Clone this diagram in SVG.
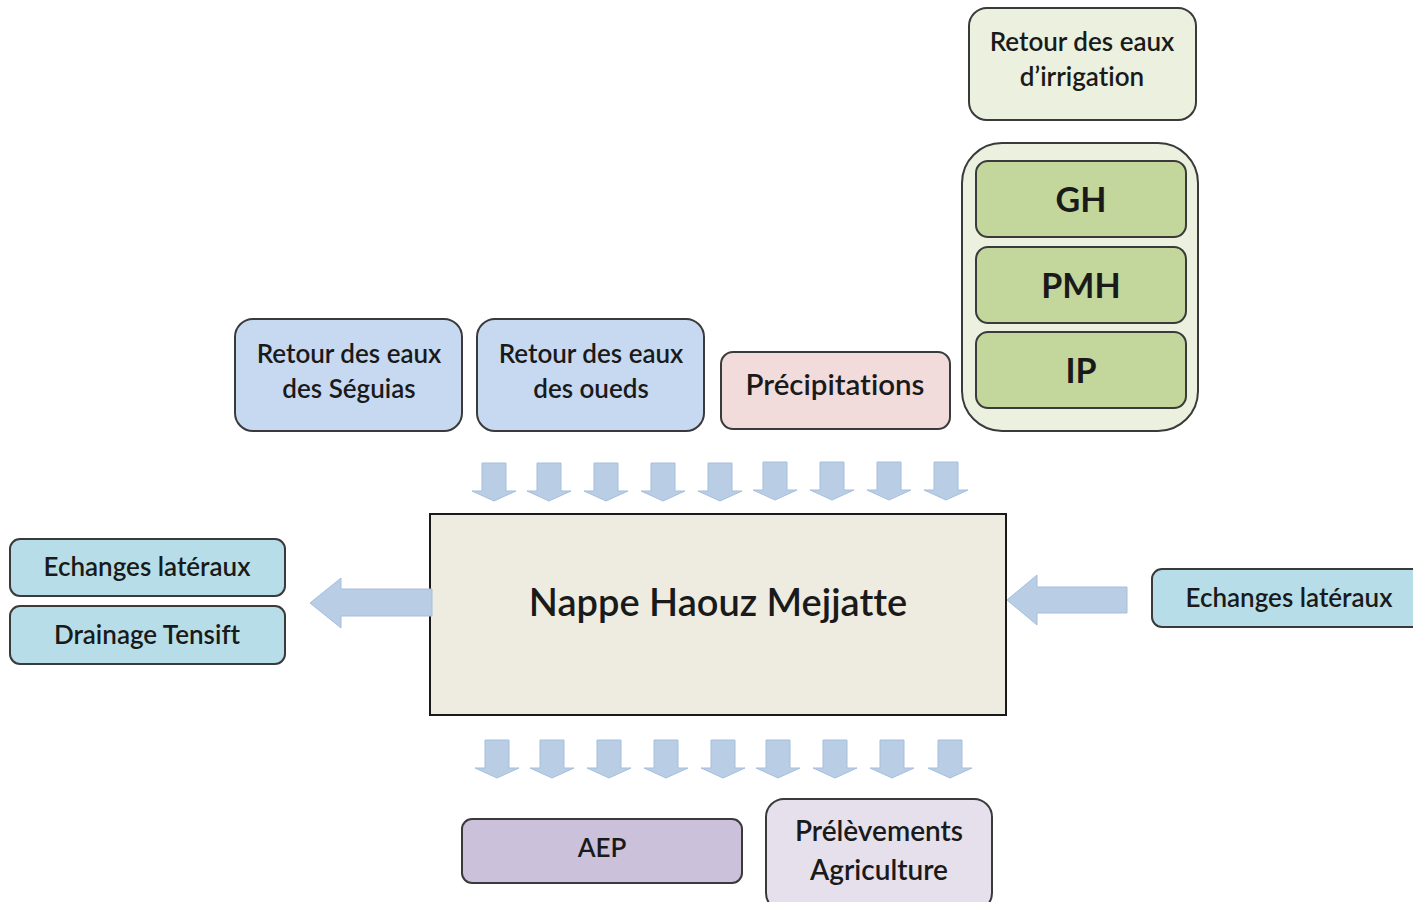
<svg xmlns="http://www.w3.org/2000/svg" width="1413" height="902" viewBox="0 0 1413 902">
<defs>
<style>
.box{stroke:#3a3a3a;stroke-width:2}
.t{font-family:Lato,"Open Sans","Liberation Sans",sans-serif;fill:#1a1a1a;text-anchor:middle;dominant-baseline:central;font-weight:600;font-variant-ligatures:none}
.m{font-size:26px}
.big{font-size:34px;font-weight:bold}
.arr{fill:#b9cde5;stroke:#a5bfdd;stroke-width:1}
</style>
<path id="down" class="arr" d="M-12,0 H12 V28 H22 L0,38 L-22,28 H-12 Z"/>
</defs>
<rect width="1413" height="902" fill="#ffffff"/>

<g id="irrigation">
<rect class="box" x="969" y="8" width="227" height="112" rx="18" fill="#ebf1de"/>
<text class="t m" x="1082" y="41">Retour des eaux</text>
<text class="t m" x="1082" y="76">d’irrigation</text>
</g>
<g id="groupe-irrigation">
<rect class="box" x="962" y="143" width="236" height="288" rx="40" fill="#ebf1de"/>
</g>
<g id="GH">
<rect class="box" x="976" y="161" width="210" height="76" rx="12" fill="#c3d69b"/>
<text class="t big" x="1081" y="198">GH</text>
</g>
<g id="PMH">
<rect class="box" x="976" y="247" width="210" height="76" rx="12" fill="#c3d69b"/>
<text class="t big" x="1081" y="284">PMH</text>
</g>
<g id="IP">
<rect class="box" x="976" y="332" width="210" height="76" rx="12" fill="#c3d69b"/>
<text class="t big" x="1081" y="369">IP</text>
</g>

<g id="seguias">
<rect class="box" x="235" y="319" width="227" height="112" rx="18" fill="#c6d9f1"/>
<text class="t m" x="349" y="353">Retour des eaux</text>
<text class="t m" x="349" y="388">des Séguias</text>
</g>
<g id="oueds">
<rect class="box" x="477" y="319" width="227" height="112" rx="18" fill="#c6d9f1"/>
<text class="t m" x="591" y="353">Retour des eaux</text>
<text class="t m" x="591" y="388">des oueds</text>
</g>
<g id="precipitations">
<rect class="box" x="721" y="352" width="229" height="77" rx="12" fill="#f2dcdb"/>
<text class="t" style="font-size:29.5px" x="835" y="383">Précipitations</text>
</g>

<g id="nappe">
<rect x="430" y="514" width="576" height="201" fill="#eeece1" stroke="#1a1a1a" stroke-width="2"/>
<text class="t" style="font-size:38px" x="718" y="601">Nappe Haouz Mejjatte</text>
</g>

<g id="echanges-gauche">
<rect class="box" x="10" y="539" width="275" height="57" rx="10" fill="#b7dee8"/>
<text class="t m" x="147" y="566">Echanges latéraux</text>
</g>
<g id="drainage">
<rect class="box" x="10" y="606" width="275" height="58" rx="10" fill="#b7dee8"/>
<text class="t m" x="147" y="634">Drainage Tensift</text>
</g>
<g id="echanges-droite">
<rect class="box" x="1152" y="569" width="275" height="58" rx="10" fill="#b7dee8"/>
<text class="t m" x="1289" y="597">Echanges latéraux</text>
</g>

<g id="aep">
<rect class="box" x="462" y="819" width="280" height="64" rx="10" fill="#ccc1da"/>
<text class="t m" x="602" y="847">AEP</text>
</g>
<g id="prelevements">
<rect class="box" x="766" y="799" width="226" height="112" rx="18" fill="#e5e0ec"/>
<text class="t" style="font-size:28px" x="879" y="830">Prélèvements</text>
<text class="t" style="font-size:28px" x="879" y="869">Agriculture</text>
</g>

<g id="connecteurs">
<use href="#down" x="494" y="463"/>
<use href="#down" x="549" y="463"/>
<use href="#down" x="606" y="463"/>
<use href="#down" x="663" y="463"/>
<use href="#down" x="720" y="463"/>
<use href="#down" x="775" y="462"/>
<use href="#down" x="832" y="462"/>
<use href="#down" x="889" y="462"/>
<use href="#down" x="946" y="462"/>
<use href="#down" x="497" y="740"/>
<use href="#down" x="552" y="740"/>
<use href="#down" x="609" y="740"/>
<use href="#down" x="666" y="740"/>
<use href="#down" x="723" y="740"/>
<use href="#down" x="778" y="740"/>
<use href="#down" x="835" y="740"/>
<use href="#down" x="892" y="740"/>
<use href="#down" x="950" y="740"/>
<path class="arr" d="M432,589 H341 V578 L310,603 L341,628 V616 H432 Z"/>
<path class="arr" d="M1127,587 H1037 V575 L1007,600 L1037,625 V613 H1127 Z"/>
</g>
</svg>
